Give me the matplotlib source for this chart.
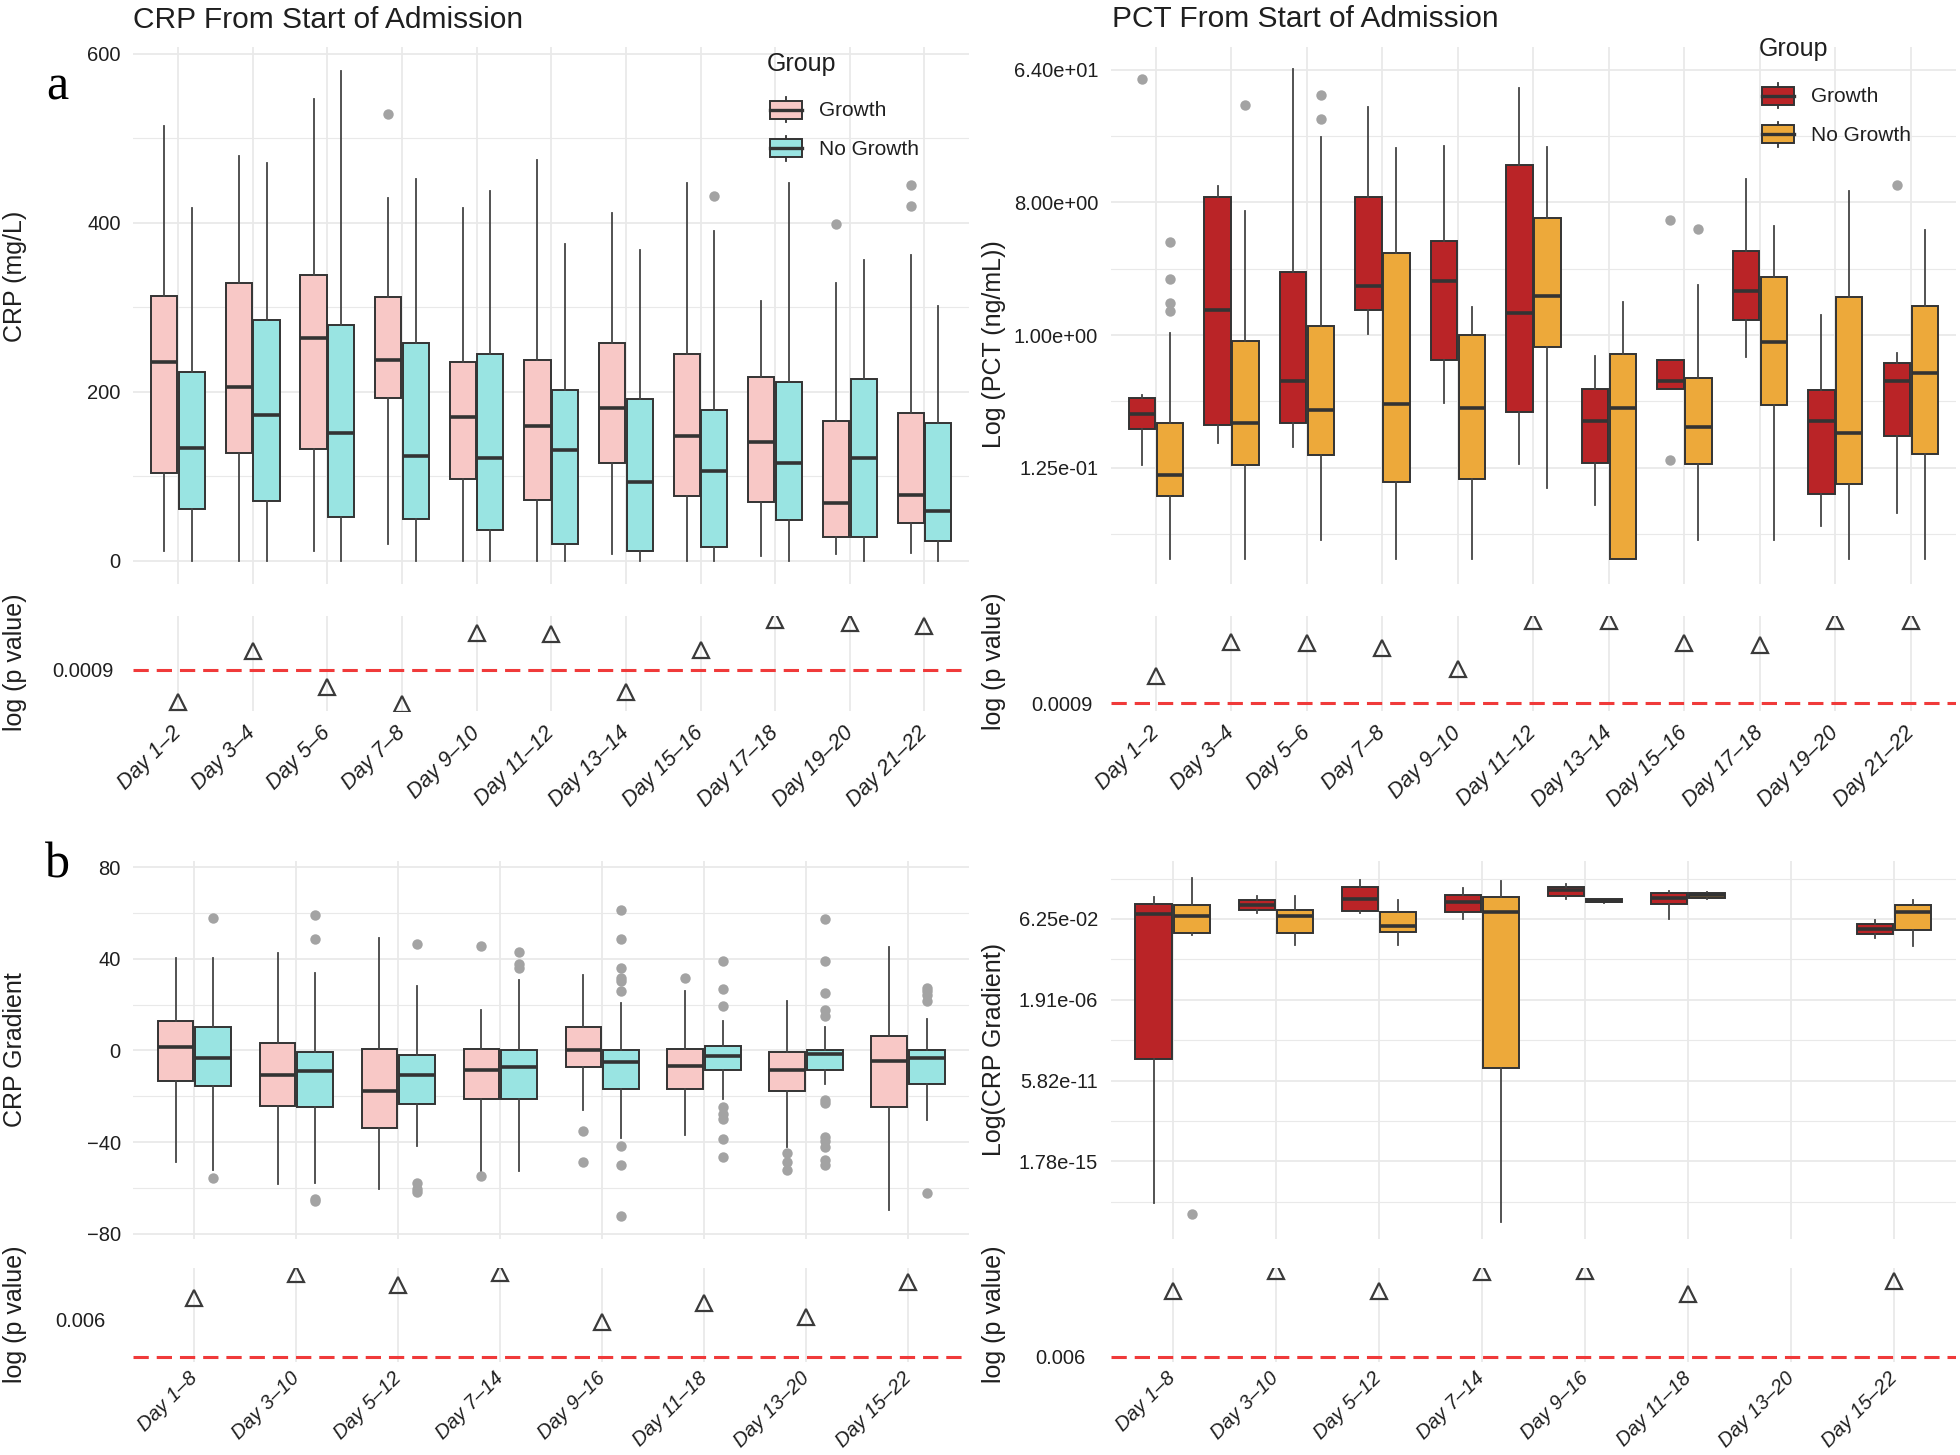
'''CRP / PCT box plots by growth group with p value strips'''

import numpy as np
import matplotlib
matplotlib.use("Agg")
import matplotlib.pyplot as plt
from matplotlib.legend_handler import HandlerBase
from matplotlib.patches import Rectangle, Patch
from matplotlib.lines import Line2D
from matplotlib.ticker import FixedLocator, FuncFormatter, NullFormatter, NullLocator

plt.rcParams['font.family'] = ['Liberation Sans', 'DejaVu Sans']

# ---------------- data ----------------
DAYS_2 = ["Day 1–2", "Day 3–4", "Day 5–6", "Day 7–8", "Day 9–10", "Day 11–12",
          "Day 13–14", "Day 15–16", "Day 17–18", "Day 19–20", "Day 21–22"]
DAYS_8 = ["Day 1–8", "Day 3–10", "Day 5–12", "Day 7–14", "Day 9–16", "Day 11–18",
          "Day 13–20", "Day 15–22"]

# box rows: (lower whisker, q1, median, q3, upper whisker)
CRP_GROWTH = [(11, 104, 235, 313, 514), (0, 127, 206, 329, 479), (11, 132, 264, 338, 546),
              (20, 192, 237, 312, 429), (0, 97, 170, 235, 417), (0, 72, 159, 237, 474),
              (8, 115, 181, 258, 411), (0, 77, 147, 245, 447), (6, 69, 140, 217, 307),
              (8, 28, 68, 165, 328), (9, 45, 78, 175, 362)]
CRP_GROWTH_OUT = [[], [], [], [528], [], [], [], [], [], [398], [445, 420]]
CRP_NOGROWTH = [(0, 61, 133, 223, 417), (0, 71, 172, 285, 470), (0, 52, 151, 279, 579),
                (0, 49, 124, 257, 452), (0, 36, 122, 245, 438), (0, 20, 131, 202, 375),
                (0, 11, 93, 191, 368), (0, 16, 106, 178, 390), (0, 48, 115, 212, 447),
                (0, 28, 122, 215, 356), (0, 23, 59, 163, 301)]
CRP_NOGROWTH_OUT = [[], [], [], [], [], [], [], [432], [], [], []]

PCT_GROWTH = [(0.13, 0.23, 0.29, 0.37, 0.39), (0.184, 0.243, 1.48, 8.75, 10.3),
              (0.173, 0.253, 0.49, 2.70, 65.0), (1.02, 1.48, 2.15, 8.75, 36.0),
              (0.342, 0.68, 2.33, 4.35, 19.4), (0.132, 0.30, 1.41, 14.4, 48.5),
              (0.070, 0.134, 0.26, 0.43, 0.72), (0.43, 0.43, 0.49, 0.68, 0.68),
              (0.71, 1.27, 2.0, 3.74, 11.6), (0.050, 0.083, 0.26, 0.42, 1.37),
              (0.061, 0.205, 0.49, 0.64, 0.76)]
PCT_GROWTH_OUT = [[55.0], [], [], [], [], [], [], [6.06, 0.14], [], [], [10.5]]
PCT_NOGROWTH = [(0.030, 0.080, 0.112, 0.25, 1.04), (0.030, 0.130, 0.253, 0.91, 6.96),
                (0.040, 0.152, 0.307, 1.16, 22.3), (0.030, 0.10, 0.338, 3.63, 18.8),
                (0.030, 0.104, 0.318, 1.0, 1.56), (0.091, 0.83, 1.85, 6.28, 19.1),
                (0.030, 0.030, 0.318, 0.74, 1.69), (0.040, 0.132, 0.235, 0.51, 2.19),
                (0.040, 0.332, 0.89, 2.47, 5.54), (0.030, 0.097, 0.214, 1.83, 9.58),
                (0.030, 0.154, 0.555, 1.57, 5.16)]
PCT_NOGROWTH_OUT = [[4.3, 2.42, 1.64, 1.45], [37.0], [43.0, 29.6], [], [], [], [], [5.24],
                    [], [], []]

GRAD_GROWTH = [(-48.6, -13.2, 1.6, 13.0, 40.1), (-58.4, -24.5, -10.8, 3.1, 42.3),
               (-60.3, -33.7, -17.9, 0.6, 48.9), (-53.3, -21.1, -8.6, 0.6, 17.7),
               (-25.9, -7.3, 0.1, 10.2, 32.8), (-36.9, -16.7, -6.9, 0.6, 25.8),
               (-42.3, -17.9, -8.6, -0.9, 21.7), (-69.8, -24.7, -4.7, 6.4, 45.1)]
GRAD_GROWTH_OUT = [[], [], [], [45.5, -54.8], [-35.3, -48.6], [31.6],
                   [-45.0, -48.9, -52.3], []]
GRAD_NOGROWTH = [(-52.1, -15.5, -3.2, 10.0, 40.1), (-57.7, -24.9, -9.1, -0.9, 33.8),
                 (-41.6, -23.3, -10.8, -2.0, 28.0), (-52.6, -21.1, -7.3, 0.1, 30.5),
                 (-38.4, -16.7, -5.0, 0.0, 20.5), (-21.1, -8.5, -2.3, 1.9, 12.9),
                 (-14.5, -8.5, -1.8, 0.0, 10.4), (-30.2, -14.9, -3.5, 0.0, 13.8)]
GRAD_NOGROWTH_OUT = [[57.7, -55.9], [59.0, 48.8, -65.0, -65.7], [46.3, -57.7, -60.6, -61.8],
                     [42.9, 37.5, 36.0],
                     [61.2, 48.8, 36.0, 31.6, 30.2, 26.1, -41.9, -50.1, -72.3],
                     [39.2, 26.8, 19.2, -24.7, -27.7, -29.9, -38.7, -46.7],
                     [57.2, 39.2, 25.0, 17.7, 15.1, -21.8, -22.8, -37.9, -39.4, -42.3,
                      -47.7, -50.1],
                     [27.2, 25.8, 24.3, 21.4, -62.4]]

LGRAD_GROWTH = [(8.55e-18, 8.93e-10, 0.120, 0.403, 1.04), (0.130, 0.201, 0.354, 0.678, 1.14),
                (0.130, 0.184, 0.841, 3.84, 9.92), (0.0625, 0.162, 0.521, 1.41, 3.36),
                (0.807, 1.24, 2.48, 3.84, 5.43), (0.0625, 0.403, 0.914, 1.75, 2.28),
                None, (0.00530, 0.00849, 0.0163, 0.0326, 0.0571)]
LGRAD_GROWTH_OUT = [[], [], [], [], [], [], [], []]
LGRAD_NOGROWTH = [(0.0078, 0.0106, 0.0961, 0.369, 12.9), (0.00212, 0.0106, 0.0961, 0.201, 1.19),
                  (0.00212, 0.0120, 0.0240, 0.162, 0.678), (7.29e-19, 2.87e-10, 0.149, 1.04, 8.0),
                  (0.5, 0.521, 0.646, 0.807, 0.841), (0.807, 0.877, 1.30, 1.68, 1.92),
                  None, (0.00195, 0.0150, 0.149, 0.369, 0.737)]
LGRAD_NOGROWTH_OUT = [[2.14e-18], [], [], [], [], [], [], []]

P_CRP = [9.8e-6, 0.0118, 8.2e-5, 7.2e-6, 0.15, 0.14, 4.1e-5, 0.014, 1.0, 0.62, 0.41]
P_PCT = [0.0096, 0.17, 0.16, 0.10, 0.0166, 1.0, 1.0, 0.16, 0.13, 1.0, 1.0]
P_GRAD = [0.062, 0.82, 0.26, 1.0, 0.0046, 0.036, 0.0080, 0.37]
P_LGRAD = [0.31, 1.0, 0.31, 0.95, 1.0, 0.26, np.nan, 0.55]

# ---------------- style ----------------
PINK, CYAN = '#F8C8C6', '#99E4E2'
RED, ORANGE = '#BA2427', '#EDA93A'
EDGE = '#333333'
GRID = '#E9E9E9'
TXT = '#1f1f1f'
W, H = 1960, 1455
L, LW = 0.068, 0.4265
R, RW = 0.5667, 0.4313


class BoxKey(HandlerBase):
    '''legend key drawn like a small box plot'''
    def create_artists(self, legend, orig_handle, xdescent, ydescent,
                       width, height, fontsize, trans):
        x0, y0 = -xdescent, -ydescent
        whisker = Line2D([x0 + width / 2] * 2, [y0 + 0.04 * height, y0 + 0.96 * height],
                         color=EDGE, lw=1.3, transform=trans)
        box = Rectangle((x0, y0 + 0.18 * height), width, 0.64 * height,
                        facecolor=orig_handle.get_facecolor(), edgecolor=EDGE,
                        lw=1.4, transform=trans)
        median = Line2D([x0, x0 + width], [y0 + height / 2] * 2, color=EDGE,
                        lw=2.4, transform=trans)
        return [whisker, box, median]


def base_style(ax, n):
    for spine in ax.spines.values():
        spine.set_visible(False)
    ax.tick_params(which='both', length=0, labelsize=14.5, labelcolor=TXT)
    ax.set_axisbelow(True)
    ax.set_xlim(0.4, n + 0.6)
    ax.set_xticks(np.arange(1, n + 1))
    ax.grid(axis='x', color=GRID, lw=1.3)


def draw_boxes(ax, rows_g, out_g, rows_n, out_n, colours):
    for rows, outs, colour, shift in ((rows_g, out_g, colours[0], -0.185),
                                      (rows_n, out_n, colours[1], 0.185)):
        stats, pos = [], []
        for i, (row, out) in enumerate(zip(rows, outs)):
            if row is None:
                continue
            stats.append(dict(whislo=row[0], q1=row[1], med=row[2], q3=row[3],
                              whishi=row[4], fliers=out))
            pos.append(i + 1 + shift)
        ax.bxp(stats, positions=pos, widths=0.35, patch_artist=True, showcaps=False,
               manage_ticks=False,
               boxprops=dict(facecolor=colour, edgecolor=EDGE, linewidth=1.4),
               medianprops=dict(color=EDGE, linewidth=2.6),
               whiskerprops=dict(color='#444444', linewidth=1.3),
               flierprops=dict(marker='o', markerfacecolor='#A3A3A3',
                               markeredgecolor='none', markersize=7.5))
    ax.tick_params(axis='x', labelbottom=False)
    ax.grid(axis='y', which='major', color=GRID, lw=1.3)
    ax.grid(axis='y', which='minor', color=GRID, lw=0.8)


def log2_axis(ax, majors, ylim):
    ax.set_yscale('log', base=2)
    ax.set_ylim(2.0 ** ylim[0], 2.0 ** ylim[1])
    step = majors[1] - majors[0]
    ax.yaxis.set_major_locator(FixedLocator([2.0 ** k for k in majors]))
    minors = [k + step / 2 for k in [majors[0] - step] + majors]
    ax.yaxis.set_minor_locator(FixedLocator([2.0 ** k for k in minors]))
    ax.yaxis.set_major_formatter(FuncFormatter(lambda v, _: f"{v:.2e}"))
    ax.yaxis.set_minor_formatter(NullFormatter())


def draw_pvalues(ax, days, pvals, line_at, tick_at, ylim, pad, xsize, xpad):
    x = np.arange(1, len(days) + 1)
    ax.plot(x, pvals, ls='none', marker='^', ms=11, mfc='none', mec='#3a3a3a',
            mew=1.6, zorder=3)
    ax.axhline(line_at, color='#F03A3A', lw=2.2, dashes=(5, 2.6), zorder=2)
    ax.set_yscale('log')
    ax.set_ylim(10 ** ylim[0], 10 ** ylim[1])
    ax.yaxis.set_major_locator(FixedLocator([tick_at]))
    ax.yaxis.set_minor_locator(NullLocator())
    ax.yaxis.set_major_formatter(FuncFormatter(lambda v, _: f"{v:g}"))
    ax.tick_params(axis='y', pad=pad)
    ax.set_xticklabels(days, rotation=45, ha='right', va='center',
                       rotation_mode='anchor', fontstyle='italic', fontsize=xsize)
    ax.tick_params(axis='x', pad=xpad)


def add_legend(ax, fig, colours, x, y_mid, title_y):
    handles = [Patch(facecolor=colours[0], label='Growth'),
               Patch(facecolor=colours[1], label='No Growth')]
    leg = ax.legend(handles=handles, handler_map={Patch: BoxKey()},
                    loc='center left', bbox_to_anchor=(x / W, 1 - y_mid / H),
                    bbox_transform=fig.transFigure, frameon=False, fontsize=15,
                    handlelength=1.55, handleheight=1.7, labelspacing=0.52,
                    handletextpad=0.8, borderpad=0, borderaxespad=0)
    for t in leg.get_texts():
        t.set_color(TXT)
    fig.text((x - 3) / W, 1 - title_y / H, "Group", fontsize=18, ha='left',
             va='center', color=TXT)


def main():
    fig = plt.figure(figsize=(W / 100, H / 100), dpi=100)

    ax_crp = fig.add_axes([L, 0.5984, LW, 0.3694])
    ax_pct = fig.add_axes([R, 0.5984, RW, 0.3694])
    ax_p1 = fig.add_axes([L, 0.5116, LW, 0.065])
    ax_p2 = fig.add_axes([R, 0.5116, RW, 0.065])
    ax_grad = fig.add_axes([L, 0.1485, LW, 0.2597])
    ax_lgrad = fig.add_axes([R, 0.1485, RW, 0.2597])
    ax_p3 = fig.add_axes([L, 0.0642, LW, 0.064])
    ax_p4 = fig.add_axes([R, 0.0642, RW, 0.064])

    for ax in (ax_crp, ax_pct, ax_p1, ax_p2):
        base_style(ax, len(DAYS_2))
    for ax in (ax_grad, ax_lgrad, ax_p3, ax_p4):
        base_style(ax, len(DAYS_8))

    # top left: CRP
    draw_boxes(ax_crp, CRP_GROWTH, CRP_GROWTH_OUT, CRP_NOGROWTH, CRP_NOGROWTH_OUT,
               (PINK, CYAN))
    ax_crp.set_ylim(-28, 608)
    ax_crp.set_yticks([0, 200, 400, 600])
    ax_crp.set_yticks([100, 300, 500], minor=True)
    ax_crp.tick_params(axis='y', pad=9)

    # top right: PCT
    draw_boxes(ax_pct, PCT_GROWTH, PCT_GROWTH_OUT, PCT_NOGROWTH, PCT_NOGROWTH_OUT,
               (RED, ORANGE))
    log2_axis(ax_pct, [-3, 0, 3, 6], (-5.64, 6.52))
    ax_pct.tick_params(axis='y', pad=9)

    # bottom left: CRP gradient
    draw_boxes(ax_grad, GRAD_GROWTH, GRAD_GROWTH_OUT, GRAD_NOGROWTH, GRAD_NOGROWTH_OUT,
               (PINK, CYAN))
    ax_grad.set_ylim(-82.3, 82.6)
    ax_grad.set_yticks([-80, -40, 0, 40, 80])
    ax_grad.set_yticks([-60, -20, 20, 60], minor=True)
    ax_grad.tick_params(axis='y', pad=9)

    # bottom right: log CRP gradient
    draw_boxes(ax_lgrad, LGRAD_GROWTH, LGRAD_GROWTH_OUT, LGRAD_NOGROWTH, LGRAD_NOGROWTH_OUT,
               (RED, ORANGE))
    log2_axis(ax_lgrad, [-49, -34, -19, -4], (-63.4, 6.74))
    ax_lgrad.tick_params(axis='y', pad=9)

    # p value strips
    draw_pvalues(ax_p1, DAYS_2, P_CRP, 0.0009, 0.0009, (-5.55, 0.23), 14, 15.5, 14)
    draw_pvalues(ax_p2, DAYS_2, P_PCT, 0.0009, 0.0009, (-3.32, 0.19), 13, 15.5, 14)
    draw_pvalues(ax_p3, DAYS_8, P_GRAD, 1.16e-4, 0.006, (-4.17, 0.19), 20, 14.5, 10)
    draw_pvalues(ax_p4, DAYS_8, P_LGRAD, 0.006, 0.006, (-2.35, 0.065), 18, 14.5, 10)

    add_legend(ax_crp, fig, (PINK, CYAN), 770, 129, 64)
    add_legend(ax_pct, fig, (RED, ORANGE), 1762, 115, 49)

    # titles, axis titles, panel letters
    fig.text(133 / W, 1 - 20 / H, "CRP From Start of Admission", fontsize=21.5,
             va='center', ha='left', color=TXT)
    fig.text(1112 / W, 1 - 19 / H, "PCT From Start of Admission", fontsize=21.5,
             va='center', ha='left', color=TXT)
    ylabels = [(15, 276, "CRP (mg/L)"), (15, 662, "log (p value)"),
               (15, 1050, "CRP Gradient"), (15, 1314, "log (p value)"),
               (994, 344, "Log (PCT (ng/mL))"), (994, 661, "log (p value)"),
               (994, 1050, "Log(CRP Gradient)"), (994, 1314, "log (p value)")]
    for x, y, text in ylabels:
        fig.text(x / W, 1 - y / H, text, rotation=90, fontsize=18, ha='center',
                 va='center', color=TXT)
    fig.text(57 / W, 1 - 99 / H, "a", family='Liberation Serif', fontsize=36,
             ha='center', va='baseline')
    fig.text(57 / W, 1 - 877 / H, "b", family='Liberation Serif', fontsize=36,
             ha='center', va='baseline')

    fig.savefig("out.png", dpi=100, facecolor='white')


if __name__ == '__main__':
    main()
